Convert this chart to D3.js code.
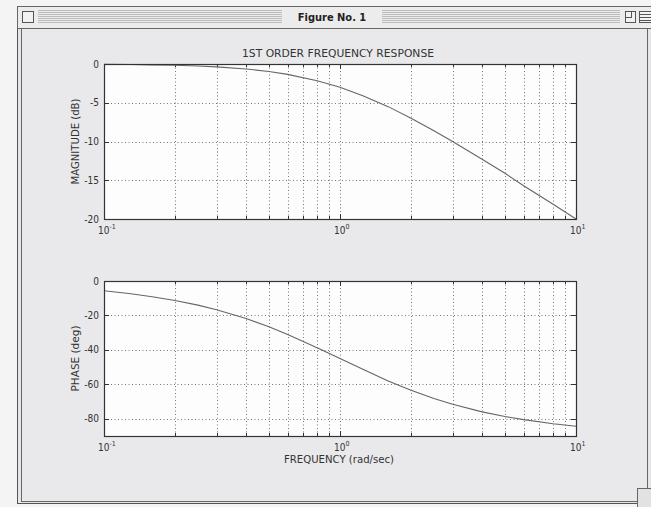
<!DOCTYPE html>
<html>
<head>
<meta charset="utf-8">
<script src="https://cdn.jsdelivr.net/npm/d3@7"></script>
<style>
  body { margin: 0; background: #f4f4f4; }
  svg { display: block; }
  text { font-family: "Liberation Sans Narrow", "DejaVu Sans Condensed", "Liberation Sans", Arial, sans-serif; fill: #333; }
</style>
</head>
<body>
<script>
// values
var freq = [0.1, 0.13, 0.16, 0.2, 0.25, 0.3, 0.4, 0.5, 0.6, 0.8, 1, 1.25, 1.6, 2, 2.5, 3, 4, 5, 6, 8, 10];
var magDb = [-0.04, -0.07, -0.11, -0.17, -0.26, -0.37, -0.64, -0.97, -1.34, -2.15, -3.0, -4.1, -5.5, -7.0, -8.6, -10.0, -12.3, -14.1, -15.7, -18.1, -20.0];
var phaseDeg = [-5.7, -7.4, -9.1, -11.3, -14.0, -16.7, -21.8, -26.6, -31.0, -38.7, -45.0, -51.3, -58.0, -63.4, -68.2, -71.6, -76.0, -78.7, -80.5, -82.9, -84.3];
var magTicks = [0, -5, -10, -15, -20];
var phaseTicks = [0, -20, -40, -60, -80];
var decades = [0.1, 1, 10];
var decadeExp = ["-1", "0", "1"];

var W = 651, H = 507;
var svg = d3.select("body").append("svg")
    .attr("width", W)
    .attr("height", H);

// window chrome
svg.append("rect").attr("x", 17.5).attr("y", 6.5).attr("width", 660).attr("height", 497)
    .attr("fill", "#e6e6e8").attr("stroke", "#555").attr("stroke-width", 1);
svg.append("rect").attr("x", 21.5).attr("y", 28.5).attr("width", 626).attr("height", 473)
    .attr("fill", "#e9e9eb").attr("stroke", "#666").attr("stroke-width", 1);
svg.append("rect").attr("x", 17.5).attr("y", 6.5).attr("width", 660).attr("height", 22)
    .attr("fill", "#ececec").attr("stroke", "#666");
// title bar stripes
for (var sy = 10; sy <= 23; sy += 2) {
  svg.append("line").attr("x1", 38).attr("x2", 282).attr("y1", sy + 0.5).attr("y2", sy + 0.5)
      .attr("stroke", "#bcbcbc");
  svg.append("line").attr("x1", 382).attr("x2", 620).attr("y1", sy + 0.5).attr("y2", sy + 0.5)
      .attr("stroke", "#bcbcbc");
}
svg.append("rect").attr("x", 22.5).attr("y", 11.5).attr("width", 11).attr("height", 11)
    .attr("fill", "#f2f2f2").attr("stroke", "#555");
svg.append("rect").attr("x", 625.5).attr("y", 11.5).attr("width", 10).attr("height", 11)
    .attr("fill", "#f2f2f2").attr("stroke", "#555");
svg.append("rect").attr("x", 625.5).attr("y", 11.5).attr("width", 6).attr("height", 6)
    .attr("fill", "none").attr("stroke", "#555");
svg.append("rect").attr("x", 639.5).attr("y", 11.5).attr("width", 12).attr("height", 11)
    .attr("fill", "#f2f2f2").attr("stroke", "#555");
[14.5, 17.5, 20.5].forEach(function(ly) {
  svg.append("line").attr("x1", 639).attr("x2", 651).attr("y1", ly).attr("y2", ly).attr("stroke", "#555");
});
svg.append("text").attr("x", 332).attr("y", 21)
    .attr("text-anchor", "middle")
    .style("font-family", "'DejaVu Sans Condensed', 'Liberation Sans', sans-serif")
    .style("font-weight", "bold").style("font-size", "11px").style("fill", "#222")
    .text("Figure No. 1");
// grow box
svg.append("rect").attr("x", 637.5).attr("y", 488.5).attr("width", 20).attr("height", 20)
    .attr("fill", "#e2e2e2").attr("stroke", "#666");

// plot boxes
var left = 104, right = 576;
var panels = [
  {top: 64, bottom: 219, domain: [-20, 0], ticks: magTicks, values: magDb, ylabel: "MAGNITUDE (dB)", ylen: 86},
  {top: 281, bottom: 436, domain: [-90, 0], ticks: phaseTicks, values: phaseDeg, ylabel: "PHASE (deg)", ylen: 66}
];

var x = d3.scaleLog().domain([0.1, 10]).range([left, right]);
var minor = x.ticks().filter(function(t) { return decades.indexOf(t) < 0; });

panels.forEach(function(p, pi) {
  var y = d3.scaleLinear().domain(p.domain).range([p.bottom, p.top]);
  var g = svg.append("g");

  g.append("rect").attr("x", left).attr("y", p.top)
      .attr("width", right - left).attr("height", p.bottom - p.top)
      .attr("fill", "#fdfdfd");

  // grid
  g.selectAll(".vg").data(x.ticks().filter(function(t) { return t > 0.1 && t < 10; }))
    .enter().append("line")
      .attr("x1", function(d) { return Math.round(x(d)) + 0.5; })
      .attr("x2", function(d) { return Math.round(x(d)) + 0.5; })
      .attr("y1", p.top).attr("y2", p.bottom)
      .attr("stroke", "#777").attr("stroke-width", 1).attr("stroke-dasharray", "1,2.5");
  g.selectAll(".hg").data(p.ticks.filter(function(t) { return t > p.domain[0] && t < p.domain[1]; }))
    .enter().append("line")
      .attr("x1", left).attr("x2", right)
      .attr("y1", function(d) { return Math.round(y(d)) + 0.5; })
      .attr("y2", function(d) { return Math.round(y(d)) + 0.5; })
      .attr("stroke", "#777").attr("stroke-width", 1).attr("stroke-dasharray", "1,2.5");

  // inside ticks, top and bottom
  [p.top, p.bottom].forEach(function(yy, k) {
    var dir = k == 0 ? 1 : -1;
    g.selectAll(".mt" + k).data(minor).enter().append("line")
        .attr("x1", function(d) { return Math.round(x(d)) + 0.5; })
        .attr("x2", function(d) { return Math.round(x(d)) + 0.5; })
        .attr("y1", yy).attr("y2", yy + dir * 3)
        .attr("stroke", "#333");
    g.selectAll(".Mt" + k).data(decades).enter().append("line")
        .attr("x1", function(d) { return Math.round(x(d)) + 0.5; })
        .attr("x2", function(d) { return Math.round(x(d)) + 0.5; })
        .attr("y1", yy).attr("y2", yy + dir * 5)
        .attr("stroke", "#333");
  });
  [left, right].forEach(function(xx, k) {
    var dir = k == 0 ? 1 : -1;
    g.selectAll(".yt" + k).data(p.ticks).enter().append("line")
        .attr("x1", xx).attr("x2", xx + dir * 5)
        .attr("y1", function(d) { return Math.round(y(d)) + 0.5; })
        .attr("y2", function(d) { return Math.round(y(d)) + 0.5; })
        .attr("stroke", "#333");
  });

  // curve
  var line = d3.line()
      .x(function(d, i) { return x(freq[i]); })
      .y(function(d) { return y(d); });
  g.append("path").datum(p.values)
      .attr("d", line)
      .attr("fill", "none").attr("stroke", "#666").attr("stroke-width", 1.1);

  g.append("rect").attr("x", left + 0.5).attr("y", p.top + 0.5)
      .attr("width", right - left).attr("height", p.bottom - p.top)
      .attr("fill", "none").attr("stroke", "#333").attr("stroke-width", 1.2);

  // y tick labels
  g.selectAll(".yl").data(p.ticks).enter().append("text")
      .attr("x", 99).attr("y", function(d) { return y(d) + 3.5; })
      .attr("text-anchor", "end").style("font-size", "10px")
      .text(function(d) { return d; });

  // x tick labels: 10 with exponent
  var xl = g.selectAll(".xl").data(decades).enter().append("text")
      .attr("x", function(d) { return x(d) - 6; })
      .attr("y", p.bottom + 15)
      .style("font-size", "10px");
  xl.append("tspan").text("10");
  xl.append("tspan").attr("dy", -5).style("font-size", "7px")
      .text(function(d, i) { return decadeExp[i]; });

  g.append("text")
      .attr("transform", "translate(79," + ((p.top + p.bottom) / 2) + ") rotate(-90)")
      .attr("text-anchor", "middle").style("font-size", "11px")
      .attr("textLength", p.ylen).attr("lengthAdjust", "spacingAndGlyphs")
      .text(p.ylabel);
});

svg.append("text").attr("x", 338).attr("y", 57)
    .attr("text-anchor", "middle").style("font-size", "11px")
    .attr("textLength", 192).attr("lengthAdjust", "spacingAndGlyphs")
    .text("1ST ORDER FREQUENCY RESPONSE");

svg.append("text").attr("x", 339).attr("y", 463)
    .attr("text-anchor", "middle").style("font-size", "11px")
    .attr("textLength", 110).attr("lengthAdjust", "spacingAndGlyphs")
    .text("FREQUENCY (rad/sec)");
</script>
</body>
</html>
